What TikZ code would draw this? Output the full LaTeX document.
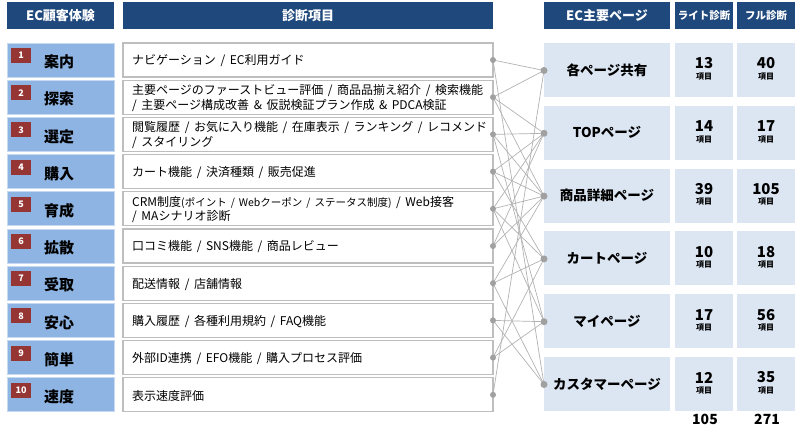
\documentclass[tikz,border=0pt]{standalone}
\usepackage{fontspec}
\setmainfont{Noto Sans CJK JP}
\newfontfamily\itemfont{Noto Sans CJK JP}[WordSpace=1.7]
\definecolor{hdr}{RGB}{31,73,125}
\definecolor{lblue}{RGB}{141,180,226}
\definecolor{lblueb}{RGB}{198,217,241}
\definecolor{badge}{RGB}{150,54,52}
\definecolor{pbox}{RGB}{220,230,242}
\definecolor{gline}{RGB}{178,178,178}
\definecolor{gdot}{RGB}{160,160,160}
\definecolor{mborder}{RGB}{190,190,190}
\begin{document}
\begin{tikzpicture}[x=1pt,y=-1pt,
  hdrbox/.style={fill=hdr,text=white,inner sep=0pt,minimum height=27pt,font=\bfseries\fontsize{13}{14}\selectfont},
  expbox/.style={fill=lblue,draw=lblueb,line width=0.8pt,minimum width=107pt,minimum height=34pt,inner sep=0pt},
  numbadge/.style={fill=badge,text=white,minimum width=20pt,minimum height=15pt,inner sep=0pt,font=\bfseries\fontsize{9}{10}\selectfont},
  explabel/.style={font=\bfseries\fontsize{15}{16}\selectfont,inner sep=0pt},
  itembox/.style={fill=white,draw=mborder,line width=1.3pt,minimum width=370pt,minimum height=34pt,inner sep=0pt},
  itemtext/.style={anchor=west,align=left,inner sep=0pt,font=\itemfont\fontsize{12}{14.5}\selectfont},
  pagebox/.style={fill=pbox,minimum width=126pt,minimum height=54pt,inner sep=0pt,font=\bfseries\fontsize{13.5}{15}\selectfont},
  cntbox/.style={fill=pbox,minimum width=58pt,minimum height=54pt,inner sep=0pt},
  cnt/.style={font=\bfseries\fontsize{15}{16}\selectfont,inner sep=0pt},
  unitlbl/.style={font=\bfseries\fontsize{8}{9}\selectfont,inner sep=0pt},
  total/.style={font=\bfseries\fontsize{14}{15}\selectfont,inner sep=0pt},
  link/.style={draw=gline,line width=0.7pt}
]
\useasboundingbox (0,0) rectangle (802,437);
% headers
\node[hdrbox,minimum width=107pt] (h1) at (60.5,15.5) {EC顧客体験};
\node[hdrbox,minimum width=370pt] (h2) at (308,15.5) {診断項目};
\node[hdrbox,minimum width=126pt] (h3) at (607,15.5) {EC主要ページ};
\node[hdrbox,minimum width=58pt,font=\bfseries\fontsize{10.5}{12}\selectfont] (h4) at (704,15.5) {ライト診断};
\node[hdrbox,minimum width=58pt,font=\bfseries\fontsize{10.5}{12}\selectfont] (h5) at (766,15.5) {フル診断};
% left experience boxes
\foreach \i/\lab in {1/案内,2/探索,3/選定,4/購入,5/育成,6/拡散,7/受取,8/安心,9/簡単,10/速度}{
  \node[expbox] (L\i) at (60.5,{60+(\i-1)*37.2}) {};
  \node[numbadge] (B\i) at (21,{55.5+(\i-1)*37.2}) {\i};
  \node[explabel] (T\i) at (59,{62+(\i-1)*37.2}) {\lab};
  \node[itembox] (M\i) at (308,{60+(\i-1)*37.2}) {};
  \coordinate (ml\i) at (493,{60+(\i-1)*37.2});
}
% item texts
\node[itemtext] (t1) at (132,61) {ナビゲーション / EC利用ガイド};
\node[itemtext] (t2) at (132,98) {主要ページのファーストビュー評価 / 商品品揃え紹介 / 検索機能\\ / 主要ページ構成改善 \& 仮説検証プラン作成 \& PDCA検証};
\node[itemtext] (t3) at (132,135.2) {閲覧履歴 / お気に入り機能 / 在庫表示 / ランキング / レコメンド\\/ スタイリング};
\node[itemtext] (t4) at (132,172.6) {カート機能 / 決済種類 / 販売促進};
\node[itemtext] (t5) at (132,209.6) {CRM制度{\fontsize{10.5}{12}\selectfont(ポイント / Webクーポン / ステータス制度)} / Web接客\\ / MAシナリオ診断};
\node[itemtext] (t6) at (132,247) {口コミ機能 / SNS機能 / 商品レビュー};
\node[itemtext] (t7) at (132,284.2) {配送情報 / 店舗情報};
\node[itemtext] (t8) at (132,321.4) {購入履歴 / 各種利用規約 / FAQ機能};
\node[itemtext] (t9) at (132,358.6) {外部ID連携 / EFO機能 / 購入プロセス評価};
\node[itemtext] (t10) at (132,395.8) {表示速度評価};
% page boxes
\foreach \j/\pg/\lt/\fl in {1/各ページ共有/13/40,2/TOPページ/14/17,3/商品詳細ページ/39/105,4/カートページ/10/18,5/マイページ/17/56,6/カスタマーページ/12/35}{
  \node[pagebox] (P\j) at (607,{70+(\j-1)*62.8}) {\pg};
  \node[cntbox] (CL\j) at (704,{70+(\j-1)*62.8}) {};
  \node[cntbox] (CF\j) at (766,{70+(\j-1)*62.8}) {};
  \node[cnt] (nl\j) at (704,{63.5+(\j-1)*62.8}) {\lt};
  \node[unitlbl] (ul\j) at (704,{76.5+(\j-1)*62.8}) {項目};
  \node[cnt] (nf\j) at (766,{63.5+(\j-1)*62.8}) {\fl};
  \node[unitlbl] (uf\j) at (766,{76.5+(\j-1)*62.8}) {項目};
  \coordinate (pr\j) at (544,{70.5+(\j-1)*62.8});
}
\node[total] (tl) at (705,419) {105};
\node[total] (tf) at (767,419) {271};
% connectors
\foreach \a/\b in {1/1,1/6,2/1,2/2,2/3,3/2,3/3,3/5,4/2,4/3,4/4,5/2,5/3,5/4,5/5,6/3,6/2,7/3,7/4,7/6,8/5,8/6,9/4,9/5,10/1}{
  \draw[link] (ml\a) -- (pr\b);
}
\foreach \i in {1,...,10}{\fill[gdot] (ml\i) circle (3);}
\foreach \j in {1,...,6}{\fill[gdot] (pr\j) circle (3.5);}
\end{tikzpicture}
\end{document}
